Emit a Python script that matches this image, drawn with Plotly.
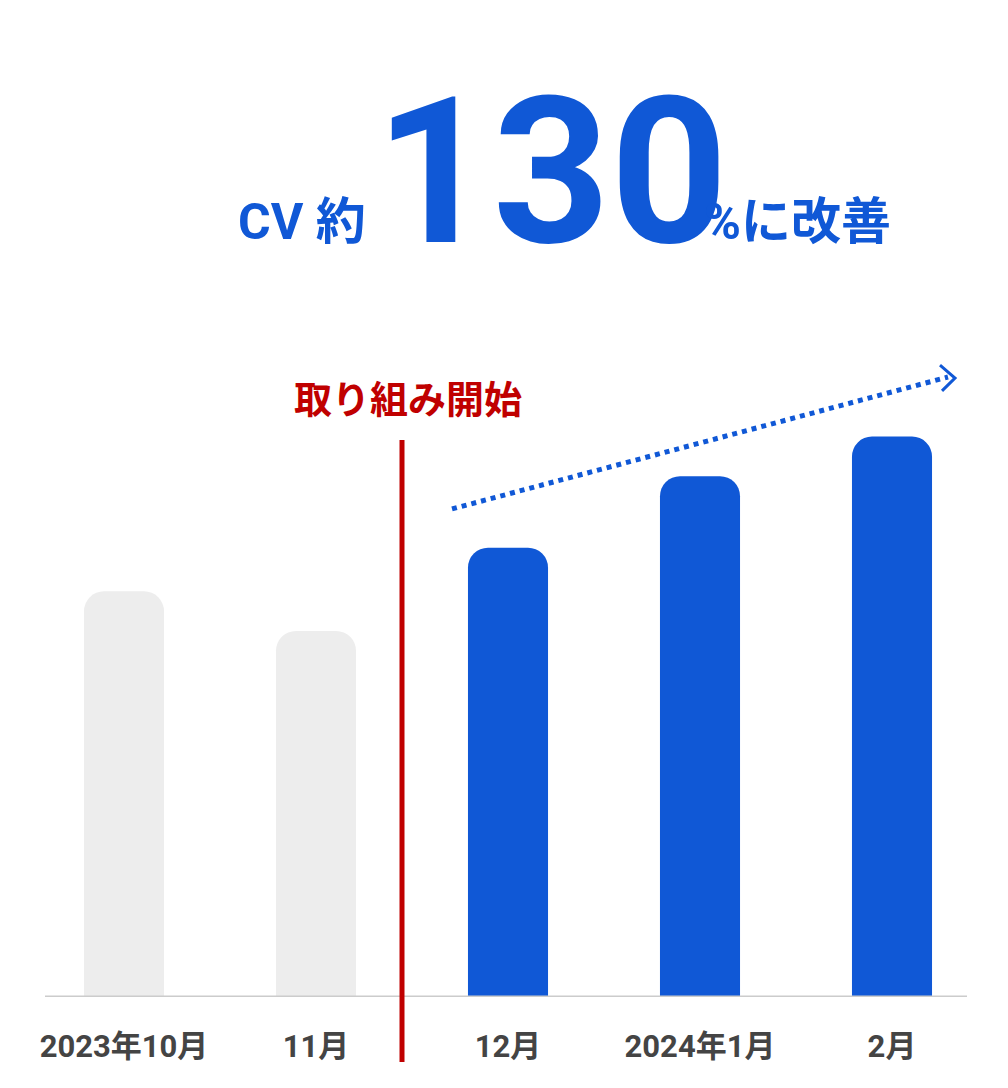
import plotly.graph_objects as go

months = ["2023年10月", "11月", "12月", "2024年1月", "2月"]
cv_values = [409, 369, 453, 525, 565]
bar_colors = ["#ededed", "#ededed", "#1058d6", "#1058d6", "#1058d6"]

BLUE = "#1058d6"
RED = "#c00000"
FONT = "Roboto, Noto Sans CJK JP"
OFF = 8  # page body margin
W, H = 1008 - OFF, 1088 - OFF
BASE = 997 - OFF  # baseline in figure px
PLOT_H = BASE

def px_x(p):
    return (p - OFF - (124 - OFF)) / 192

fig = go.Figure()
fig.add_trace(go.Bar(
    x=list(range(len(months))), y=cv_values, width=0.417,
    marker=dict(color=bar_colors, line=dict(width=0)),
    hoverinfo="skip",
))

# dotted trend line
fig.add_trace(go.Scatter(
    x=[px_x(452), px_x(948)], y=[997 - 505, 997 - 372], mode="lines",
    line=dict(color=BLUE, width=5, dash="dot"), hoverinfo="skip",
))
# chevron head
fig.add_trace(go.Scatter(
    x=[px_x(940), px_x(955), px_x(942)], y=[997 - 360, 997 - 373, 997 - 386], mode="lines",
    line=dict(color=BLUE, width=3), hoverinfo="skip",
))

fig.add_shape(type="line", xref="x", yref="y", x0=px_x(45), x1=px_x(967),
              y0=0, y1=0, line=dict(color="#cccccc", width=3))
fig.add_shape(type="line", xref="x", yref="paper", x0=px_x(402), x1=px_x(402),
              y0=(997 - 1062) / PLOT_H, y1=(997 - 440) / PLOT_H, line=dict(color=RED, width=5))

fig.add_annotation(text="<b>取り組み開始</b>", x=px_x(408), y=997 - 392,
                   xref="x", yref="y", showarrow=False,
                   font=dict(family="Noto Sans CJK JP", size=38, color=RED))

title_anns = [
    dict(text="<b>CV 約</b>", px=368, py=222, anchor="right", size=50),
    dict(text="<b>130</b>", px=373, py=172, anchor="left", size=205),
    dict(text="<b>%に改善</b>", px=702, py=222, anchor="left", size=50),
]
for a in title_anns:
    fig.add_annotation(text=a["text"], x=(a["px"] - OFF) / W, y=(997 - a["py"]) / PLOT_H,
                       xref="paper", yref="paper", xanchor=a["anchor"], yanchor="middle",
                       showarrow=False,
                       font=dict(family=FONT, size=a["size"], color=BLUE))

fig.update_layout(
    width=W, height=H,
    margin=dict(l=0, r=0, t=0, b=H - BASE),
    paper_bgcolor="white", plot_bgcolor="white",
    showlegend=False, barcornerradius=20,
    xaxis=dict(range=[px_x(OFF), px_x(1008)], tickvals=list(range(len(months))),
               ticktext=[f"<b>{m}</b>" for m in months], showgrid=False, zeroline=False,
               ticks="", ticklabelstandoff=28,
               tickfont=dict(family=FONT, size=31, color="#444444")),
    yaxis=dict(range=[0, 997], visible=False),
)
fig.write_html("out.html")
